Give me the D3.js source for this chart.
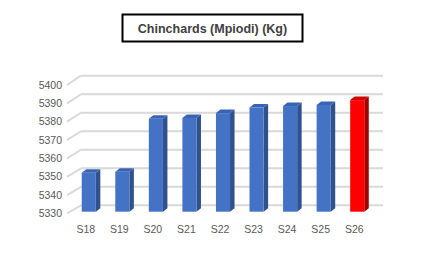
<!DOCTYPE html>
<html>
<head>
<meta charset="utf-8">
<script src="https://cdn.jsdelivr.net/npm/d3@7"></script>
<style>
	body { margin: 0; background: #fff; }
	text { font-family: "Liberation Sans", Arial, sans-serif; }
</style>
</head>
<body>
<script>
	const categories = ["S18", "S19", "S20", "S21", "S22", "S23", "S24", "S25", "S26"];
	const values = [5351, 5351.5, 5380, 5380.4, 5383, 5386, 5386.8, 5387.4, 5390];
	const highlighted = ["S26"];
	const yTicks = [5330, 5340, 5350, 5360, 5370, 5380, 5390, 5400];
	const title = "Chinchards (Mpiodi) (Kg)";

	const width = 425, height = 255;

	// faces of the 3D columns
	const blue = { front: "#4472c4", side: "#2f528f", top: "#3a64b3" };
	const red = { front: "#ff0000", side: "#a00000", top: "#d00000" };

	// bar depth offset
	const bdx = 4.5, bdy = 3.5;

	const svg = d3.select("body").append("svg")
		.attr("width", width)
		.attr("height", height);

	const x = d3.scaleBand()
		.domain(categories)
		.range([72, 374])
		.paddingInner(0.58)
		.paddingOuter(0.29);

	// back wall, front edge and the plane the bars stand in
	const yBack = d3.scaleLinear().domain([5330, 5400]).range([205.3, 75.7]);
	const yFront = d3.scaleLinear().domain([5330, 5400]).range([213.5, 85]);
	const yBar = d3.scaleLinear().domain([5330, 5400]).range([211.7, 81.5]);

	const backLeft = 81, backRight = 383, frontLeft = 67;

	const grid = svg.append("g")
		.attr("class", "grid")
		.attr("stroke", "#d9d9d9")
		.attr("stroke-width", 2)
		.attr("fill", "none");

	grid.selectAll("line.back")
		.data(yTicks)
		.enter()
		.append("line")
		.attr("class", "back")
		.attr("x1", backLeft)
		.attr("x2", backRight)
		.attr("y1", d => yBack(d))
		.attr("y2", d => yBack(d));

	grid.selectAll("line.side")
		.data(yTicks)
		.enter()
		.append("line")
		.attr("class", "side")
		.attr("x1", frontLeft)
		.attr("y1", d => yFront(d))
		.attr("x2", backLeft)
		.attr("y2", d => yBack(d));

	svg.append("g")
		.selectAll("text")
		.data(yTicks)
		.enter()
		.append("text")
		.attr("x", 62)
		.attr("y", d => yFront(d))
		.attr("dy", "0.35em")
		.attr("text-anchor", "end")
		.attr("font-size", 10.5)
		.attr("fill", "#595959")
		.text(d => d);

	const data = categories.map((c, i) => ({ cat: c, value: values[i] }));
	const bw = x.bandwidth();
	const base = yBar(5330);

	const bars = svg.append("g")
		.selectAll("g")
		.data(data)
		.enter()
		.append("g");

	const pal = d => highlighted.includes(d.cat) ? red : blue;

	bars.append("polygon")
		.attr("fill", d => pal(d).side)
		.attr("points", d => {
			const x1 = x(d.cat) + bw, top = yBar(d.value);
			return [[x1, top], [x1 + bdx, top - bdy], [x1 + bdx, base - bdy], [x1, base]].join(" ");
		});

	bars.append("polygon")
		.attr("fill", d => pal(d).top)
		.attr("points", d => {
			const x0 = x(d.cat), x1 = x0 + bw, top = yBar(d.value);
			return [[x0, top], [x0 + bdx, top - bdy], [x1 + bdx, top - bdy], [x1, top]].join(" ");
		});

	bars.append("rect")
		.attr("fill", d => pal(d).front)
		.attr("x", d => x(d.cat))
		.attr("y", d => yBar(d.value))
		.attr("width", bw)
		.attr("height", d => base - yBar(d.value));

	svg.append("g")
		.selectAll("text")
		.data(categories)
		.enter()
		.append("text")
		.attr("x", d => x(d) + bw / 2 - 3)
		.attr("y", 233)
		.attr("text-anchor", "middle")
		.attr("font-size", 10.5)
		.attr("fill", "#595959")
		.text(d => d);

	// title box
	svg.append("rect")
		.attr("x", 122.5)
		.attr("y", 14.5)
		.attr("width", 180)
		.attr("height", 27)
		.attr("fill", "#fff")
		.attr("stroke", "#000")
		.attr("stroke-width", 2);

	svg.append("text")
		.attr("x", 212.5)
		.attr("y", 32.5)
		.attr("text-anchor", "middle")
		.attr("font-size", 12.5)
		.attr("font-weight", "bold")
		.attr("fill", "#404040")
		.text(title);
</script>
</body>
</html>
